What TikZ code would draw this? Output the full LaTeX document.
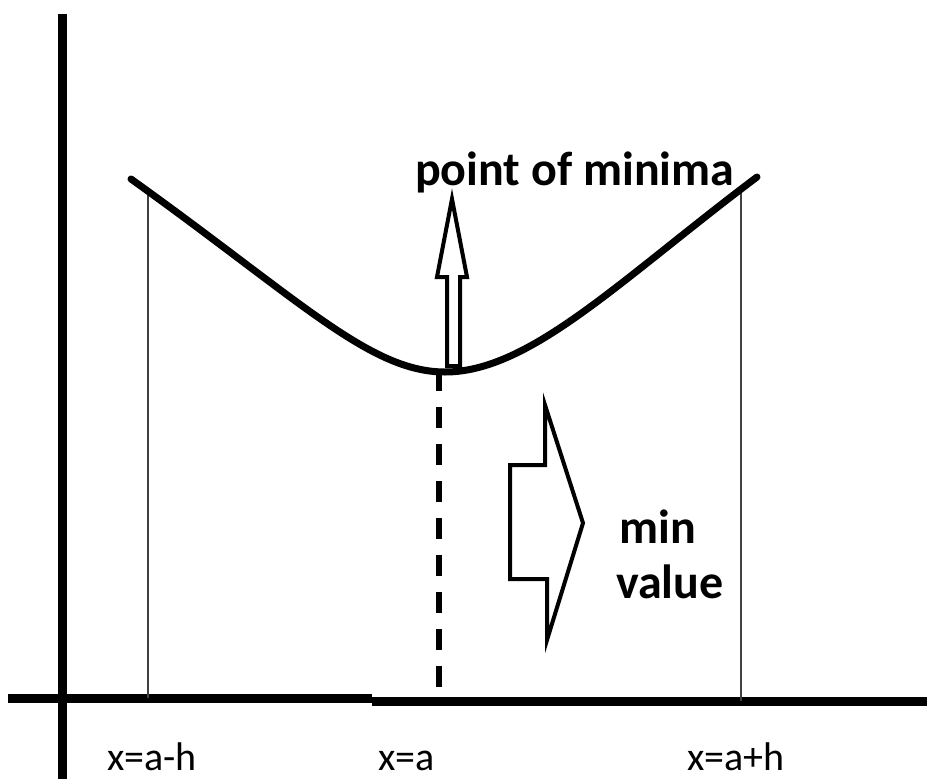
\documentclass[tikz,border=0pt]{standalone}
\usepackage{fontspec}
\setmainfont{Carlito}
\begin{document}
\begin{tikzpicture}[x=1pt, y=-1pt,
  axis/.style={line width=9pt},
  hollow/.style={line width=4pt, line join=miter, fill=white},
  lbl/.style={anchor=base west, inner sep=0pt, font=\fontsize{40}{48}\selectfont},
  blbl/.style={anchor=base west, inner sep=0pt, font=\bfseries\fontsize{48}{56}\selectfont}]
  \useasboundingbox (0,0) rectangle (927,782);
  % sumbu
  \draw[axis] (62,14) -- (62,779);
  \draw[axis] (8,698) -- (372,698);
  \draw[axis] (372,701) -- (927,701);
  % kurva
  \coordinate (cl) at (131,179);
  \coordinate (cm) at (445,372);
  \coordinate (cr) at (757,177);
  \draw[black!75, line width=1.5pt] (148,191) -- (148,698);
  \draw[black!75, line width=1.5pt] (741,189) -- (741,701);
  \draw[line width=6pt, dash pattern=on 21pt off 16pt] (439,370) -- (439,698);
  \draw[line width=7pt, line cap=round] (cl) .. controls (300,300) and (370,372) .. (cm)
    .. controls (530,372) and (620,280) .. (cr);
  % panah
  \draw[hollow] (447,366) -- (447,277) -- (437,277) -- (452,199) -- (467,277)
    -- (460,277) -- (460,366) -- cycle;
  \draw[hollow] (545,405) -- (583,523) -- (547,640) -- (547,579) -- (510,579)
    -- (510,465) -- (545,465) -- cycle;
  % label
  \node[blbl] (pmin) at (415,185) {point of minima};
  \node[blbl] (vmin) at (619,543) {min};
  \node[blbl] (vval) at (616,598) {value};
  \foreach \x/\t/\n in {107/x=a-h/lh, 378/x=a/la, 687/x=a+h/rh}{
    \node[lbl] (x\n) at (\x,770) {\t};
  }
\end{tikzpicture}
\end{document}
